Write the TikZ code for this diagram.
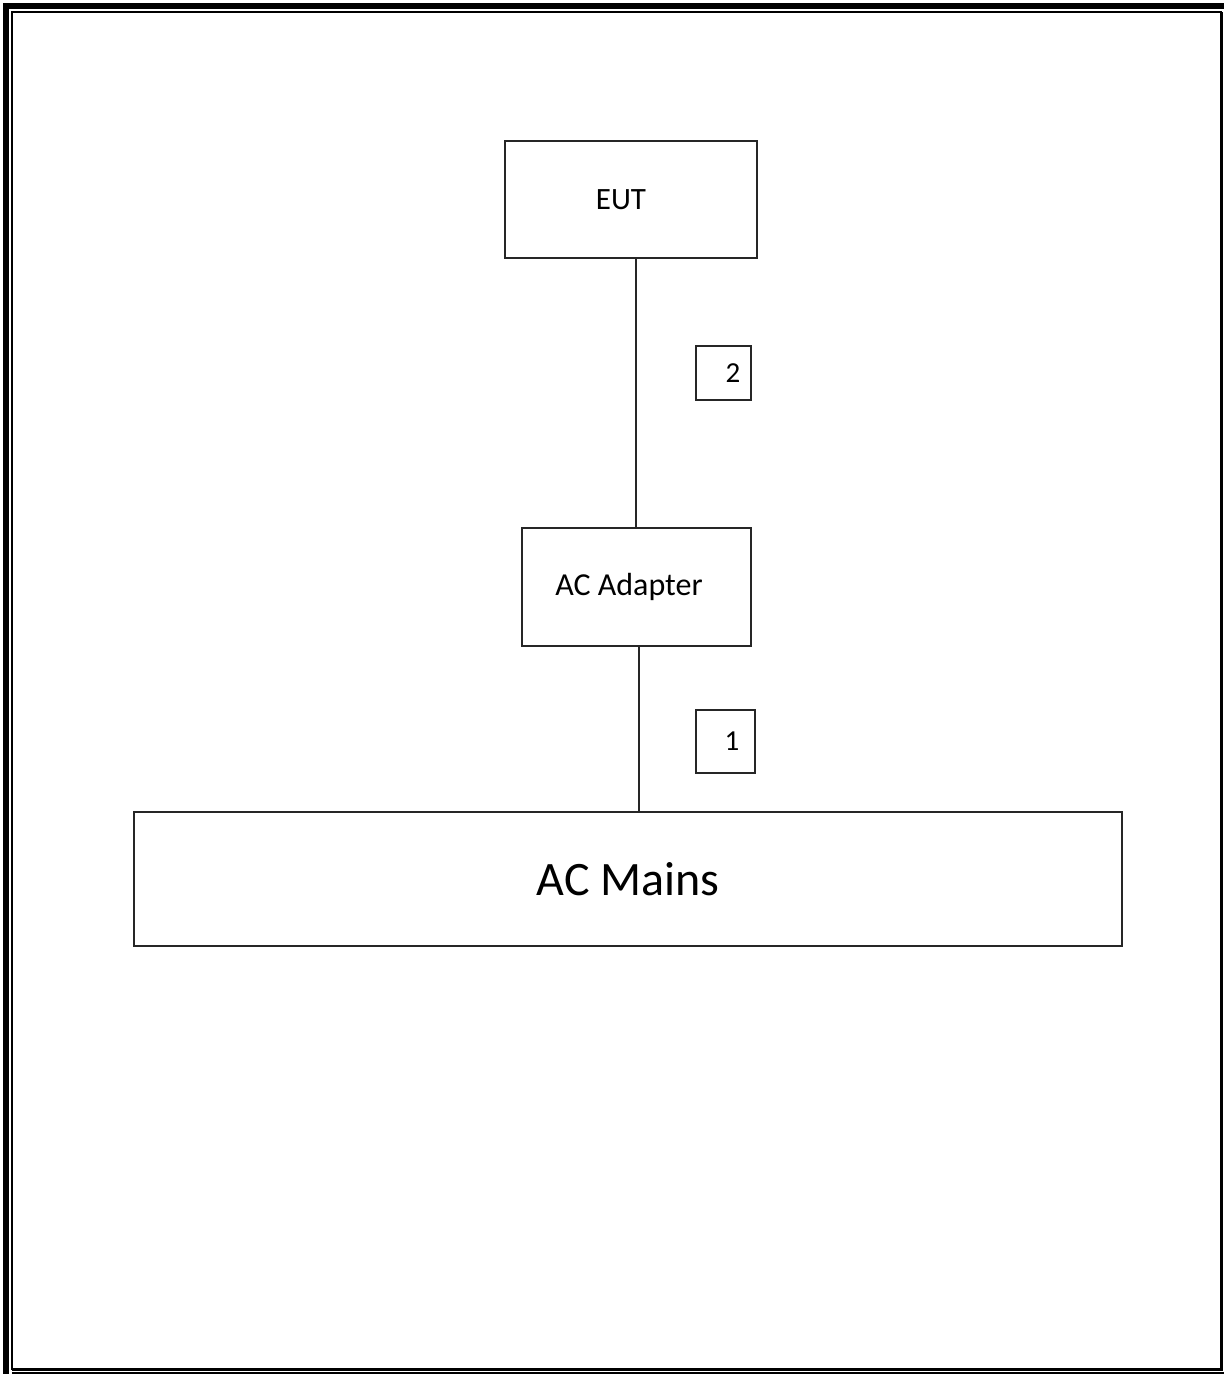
\documentclass[tikz,border=0pt]{standalone}
\usepackage{fontspec}
\setmainfont{Carlito}
\begin{document}
\begin{tikzpicture}[x=1pt,y=-1pt,
  block/.style={draw=black!85, line width=2pt, rectangle, inner sep=0pt, anchor=center},
  tag/.style={draw=black!85, line width=2pt, rectangle, inner sep=0pt, anchor=center, font=\fontsize{29}{34}\selectfont},
  wire/.style={draw=black!85, line width=2pt}]
  % page frame
  \useasboundingbox (0,0) rectangle (1224,1374);
  \fill[white] (0,0) rectangle (1224,1374);
  \draw[line width=6pt] (6,1374) -- (6,6) -- (1224,6);
  \draw[line width=2pt] (11.5,1369.5) -- (11.5,12) -- (1221.5,12);
  \draw[line width=3pt] (1221.5,12) -- (1221.5,1369) -- (11.5,1369);
  \draw[line width=1.5pt] (12,1373) -- (1224,1373);

  % blocks (labels sit a little left of centre)
  \node[block, minimum width=252pt, minimum height=117pt, font=\fontsize{31}{37}\selectfont]
    (eut) at (631,199.5) {EUT\kern20pt\relax};
  \node[block, minimum width=229pt, minimum height=118pt, font=\fontsize{32}{38}\selectfont]
    (adapter) at (636.5,587) {AC Adapter\kern15pt\relax};
  \node[block, minimum width=988pt, minimum height=134pt, font=\fontsize{48}{56}\selectfont]
    (mains) at (628,879) {AC Mains};

  % cable tags
  \node[tag, minimum width=55pt, minimum height=54pt] (tag2) at (723.5,373) {\hspace{19pt}2};
  \node[tag, minimum width=59pt, minimum height=63pt] (tag1) at (725.5,741.5) {\hspace{13pt}1};

  % cables
  \coordinate (c2) at (636,0);
  \coordinate (c1) at (639,0);
  \draw[wire] (eut.south -| c2) -- (adapter.north -| c2);
  \draw[wire] (adapter.south -| c1) -- (mains.north -| c1);
\end{tikzpicture}
\end{document}
